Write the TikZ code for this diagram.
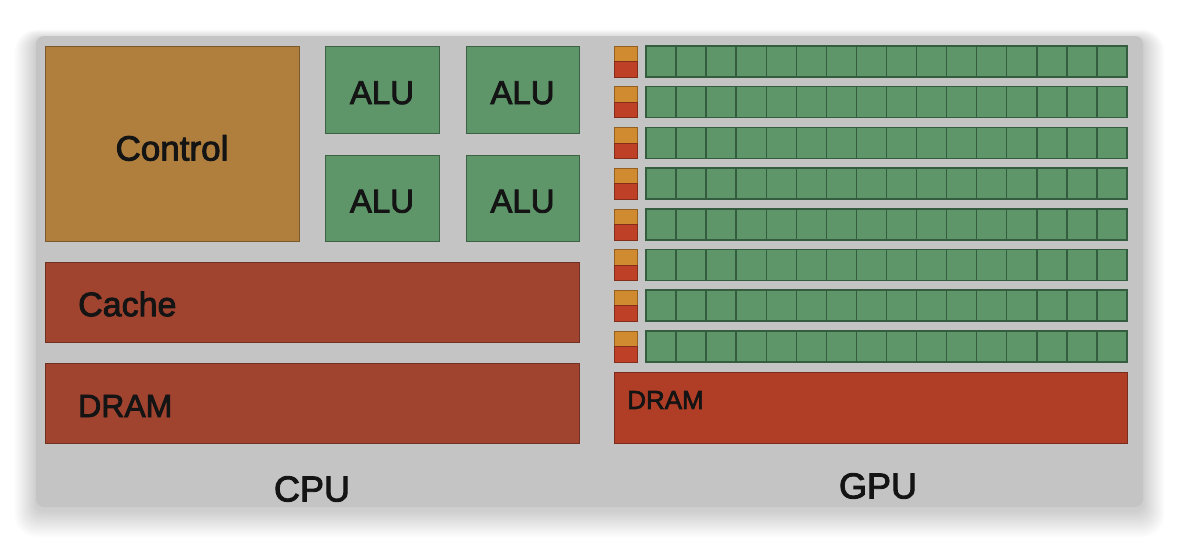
\documentclass[tikz,border=0pt]{standalone}
\usepackage{fontspec}
\setmainfont{Liberation Sans}[FakeBold=2.6]
\definecolor{panel}{RGB}{196,196,196}
\definecolor{ctrlc}{RGB}{176,127,62}
\definecolor{aluc}{RGB}{94,150,106}
\definecolor{alued}{RGB}{52,92,62}
\definecolor{cachec}{RGB}{160,68,48}
\definecolor{gdramc}{RGB}{176,62,38}
\definecolor{gorange}{RGB}{208,138,48}
\definecolor{gred}{RGB}{190,64,38}
\definecolor{txt}{RGB}{20,20,20}
\newcommand{\lowtxt}[2]{\raisebox{-#1pt}[0pt][0pt]{#2}}
\begin{document}
\begin{tikzpicture}[x=1pt,y=-1pt,
  blk/.style={inner sep=0pt, outer sep=0pt, anchor=north west, line width=0.9pt, text=txt},
  cell/.style={inner sep=0pt, outer sep=0pt, anchor=north west, fill=aluc, draw=alued, line width=1.5pt, minimum width=30.06, minimum height=31},
  small/.style={inner sep=0pt, outer sep=0pt, anchor=north west, line width=0.6pt, minimum width=23, minimum height=15.5},
  lbl/.style={inner sep=0pt, text=txt}]
\useasboundingbox (0,0) rectangle (1180,544);
\fill[white] (0,0) rectangle (1180,544);
% shadow
\foreach \i in {1,...,24}{
  \fill[black, opacity=0.006, rounded corners=8+\i*0.6] (36-\i*0.9,36-\i*0.4+3) rectangle (1143+\i*0.9,507+\i*1.1+4);
}
\node[inner sep=0, outer sep=0, anchor=north west, fill=panel, rounded corners=8, minimum width=1107, minimum height=471] (panel) at (36,36) {};
% CPU
\node[blk, fill=ctrlc, draw=ctrlc!70!black, minimum width=254, minimum height=195] (control) at (45,46) {\fontsize{35}{40}\selectfont\lowtxt{17}{Control}};
\node[blk, fill=aluc, draw=aluc!65!black, minimum width=114, minimum height=87] (alu1) at (325,46) {\fontsize{33}{38}\selectfont\lowtxt{14.5}{ALU}};
\node[blk, fill=aluc, draw=aluc!65!black, minimum width=113, minimum height=87] (alu2) at (466,46) {\fontsize{33}{38}\selectfont\lowtxt{14.5}{ALU}};
\node[blk, fill=aluc, draw=aluc!65!black, minimum width=114, minimum height=86] (alu3) at (325,155) {\fontsize{33}{38}\selectfont\lowtxt{14.5}{ALU}};
\node[blk, fill=aluc, draw=aluc!65!black, minimum width=113, minimum height=86] (alu4) at (466,155) {\fontsize{33}{38}\selectfont\lowtxt{14.5}{ALU}};
\node[blk, fill=cachec, draw=cachec!70!black, minimum width=534, minimum height=80] (cache) at (45,262) {};
\node[lbl, anchor=west] (cachet) at (78,304) {\fontsize{34}{40}\selectfont Cache};
\node[blk, fill=cachec, draw=cachec!70!black, minimum width=534, minimum height=80] (cdram) at (45,363) {};
\node[lbl, anchor=west] (cdramt) at (78,406) {\fontsize{32}{38}\selectfont DRAM};
\node[lbl] (cpu) at (312,489) {\fontsize{36}{42}\selectfont CPU};
% GPU
\foreach \r in {0,...,7}{
  \node[small, fill=gorange, draw=gorange!70!black] (o\r) at (614,46+40.7*\r) {};
  \node[small, fill=gred, draw=gred!70!black] (k\r) at (614,61.5+40.7*\r) {};
  \foreach \c in {0,...,15}{
    \node[cell] (g\r-\c) at (646+30.06*\c,46+40.7*\r) {};
  }
}
\node[blk, fill=gdramc, draw=gdramc!70!black, minimum width=513, minimum height=71] (gdram) at (614,372) {};
\node[lbl, anchor=west] (gdramt) at (627,400) {\fontsize{26}{30}\selectfont DRAM};
\node[lbl] (gpu) at (878,486) {\fontsize{36}{42}\selectfont GPU};
\end{tikzpicture}
\end{document}
